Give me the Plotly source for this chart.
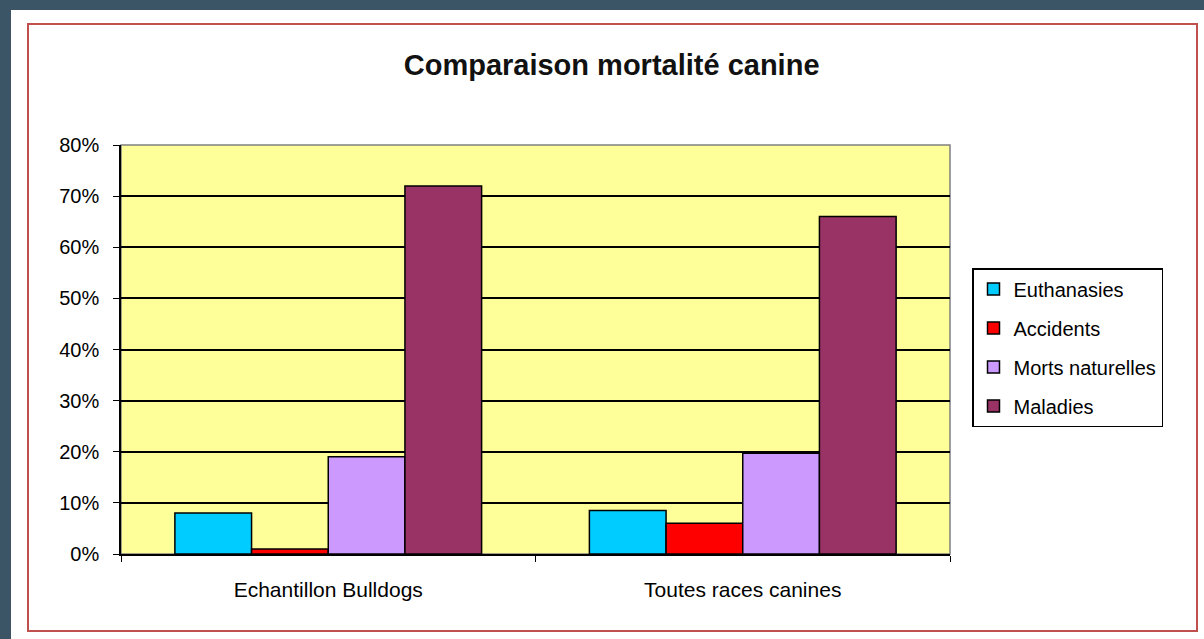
import plotly.graph_objects as go

categories = ["Echantillon Bulldogs", "Toutes races canines"]
euthanasies = [0.08, 0.085]
accidents = [0.01, 0.06]
morts_naturelles = [0.19, 0.197]
maladies = [0.72, 0.66]
y_ticks = [0, 0.1, 0.2, 0.3, 0.4, 0.5, 0.6, 0.7, 0.8]

W, H = 1204, 639
L, R, T, B = 121, 950, 145, 554  # plot area in pixels


def px_x(x):
    return (x - L) / (R - L)


def px_y(y):
    return (B - y) / (B - T)


series = [
    ("Euthanasies", euthanasies, "#00CCFF"),
    ("Accidents", accidents, "#FF0000"),
    ("Morts naturelles", morts_naturelles, "#CC99FF"),
    ("Maladies", maladies, "#993366"),
]

fig = go.Figure()
for i, (name, vals, color) in enumerate(series):
    fig.add_trace(go.Bar(
        x=categories, y=vals, name=name,
        legendgroup=str(i),
        marker=dict(color=color, line=dict(color="black", width=1.5)),
    ))

fig.update_layout(
    width=W, height=H,
    margin=dict(l=L, r=W - R, t=T, b=H - B),
    paper_bgcolor="white",
    plot_bgcolor="#FFFF99",
    font=dict(family="Liberation Sans, Arial, sans-serif", color="black", size=21),
    barmode="group", bargap=0.26, bargroupgap=0,
    title=dict(text="<b>Comparaison mortalité canine</b>", x=0.508, xanchor="center",
               y=1 - 65 / H, yanchor="middle", font=dict(size=29, color="#111")),
    legend=dict(x=px_x(972), y=px_y(268), xanchor="left", yanchor="top",
                bordercolor="black", borderwidth=1.5, bgcolor="white",
                tracegroupgap=10, font=dict(size=20),
                itemwidth=30),
    xaxis=dict(showline=True, linecolor="black", linewidth=1.5,
               ticks="outside", tickson="boundaries", ticklen=6, tickcolor="black",
               ticklabelstandoff=16, tickfont=dict(size=21)),
    yaxis=dict(range=[0, 0.8], tickvals=y_ticks, tickformat=".0%",
               showline=True, linecolor="black", linewidth=1.5,
               ticks="outside", ticklen=6, tickcolor="black",
               showgrid=True, gridcolor="black", gridwidth=1.5,
               zeroline=False, ticklabelstandoff=10, tickfont=dict(size=20)),
    showlegend=True,
    shapes=[
        # plot area frame
        dict(type="rect", xref="paper", yref="paper", x0=0, x1=1, y0=0, y1=1,
             line=dict(color="#808080", width=1.5), layer="below"),
        # red chart border
        dict(type="rect", xref="paper", yref="paper",
             x0=px_x(28), x1=px_x(1197), y0=px_y(631), y1=px_y(24),
             line=dict(color="#C0504D", width=2)),
        # dark outer frame (top and left)
        dict(type="rect", xref="paper", yref="paper",
             x0=px_x(0), x1=px_x(W), y0=px_y(10), y1=px_y(0),
             line=dict(width=0), fillcolor="#3B5566"),
        dict(type="rect", xref="paper", yref="paper",
             x0=px_x(0), x1=px_x(11), y0=px_y(H), y1=px_y(0),
             line=dict(width=0), fillcolor="#3B5566"),
    ],
)

fig.write_html("out.html", config={"displayModeBar": False},
               post_script="document.body.style.margin='0';")
